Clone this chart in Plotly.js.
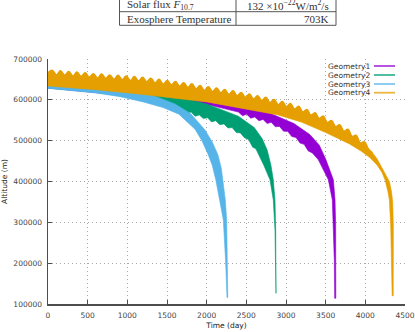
<!DOCTYPE html>
<html>
<head>
<meta charset="utf-8">
<script src="https://cdn.plot.ly/plotly-3.0.1.min.js"></script>
<style>
  html, body { margin: 0; padding: 0; background: #fff; }
  #chart { width: 415px; height: 332px; }
</style>
</head>
<body>
<div id="chart"></div>
<script>
// Orbit decay of four satellite geometries: altitude envelope (m) over time (day).
// Each band is bounded by an upper edge and a lower edge of the oscillating altitude.

const seriesNames = ['Geometry1', 'Geometry2', 'Geometry3', 'Geometry4'];
const seriesColors = ['#9400d3', '#009e73', '#56b4e9', '#e69f00'];

// Geometry1
const g1TopT = [0, 1000, 2000, 2400, 2800, 3100, 3300, 3420, 3504, 3555, 3597, 3618, 3626, 3628];
const g1TopH = [648000, 630000, 603000, 588000, 567000, 542000, 515000, 489000, 453000, 428000, 404000, 355000, 290000, 114000];
const g1BotT = [0, 1000, 2063, 2400, 2452, 2504, 2556, 2607, 2659, 2711, 2763, 2814, 2866, 2918, 2970, 3021, 3073,
  3125, 3177, 3228, 3280, 3332, 3408, 3490, 3534, 3584, 3597, 3609, 3614];
const g1BotH = [629000, 610000, 586000, 570000, 561000, 565000, 555000, 558000, 549000, 552000, 542000, 545000, 534000,
  535000, 523000, 523000, 510000, 508000, 494000, 491000, 475000, 470000, 453000, 422000, 404000, 355000, 289000,
  208000, 114000];

// Geometry2
const g2TopT = [0, 600, 1200, 1600, 2000, 2400, 2600, 2700, 2763, 2810, 2840, 2861, 2870, 2874];
const g2TopH = [648000, 641000, 625000, 610000, 590000, 560000, 532000, 505000, 477000, 440000, 404000, 355000, 281000, 126000];
const g2BotT = [0, 600, 1200, 1600, 1700, 1752, 1804, 1855, 1907, 1959, 2011, 2062, 2114, 2166, 2218, 2269, 2321,
  2373, 2425, 2476, 2528, 2580, 2620, 2720, 2798, 2840, 2861, 2868];
const g2BotH = [629000, 619000, 600000, 583000, 577000, 567000, 570000, 560000, 563000, 554000, 556000, 546000, 549000,
  539000, 541000, 531000, 532000, 520000, 519000, 507000, 503000, 484000, 480000, 440000, 404000, 355000, 281000, 126000];

// Geometry3
const g3TopT = [0, 600, 1200, 1600, 1800, 1979, 2070, 2143, 2185, 2206, 2235, 2252, 2262, 2266];
const g3TopH = [648000, 640000, 620000, 590000, 566000, 526000, 497000, 465000, 432000, 404000, 355000, 306000, 200000, 116000];
const g3BotT = [0, 300, 600, 900, 1200, 1450, 1650, 1853, 1940, 2017, 2070, 2115, 2165, 2210, 2240, 2256];
const g3BotH = [628000, 622000, 617000, 608000, 595000, 581000, 565000, 528000, 500000, 467000, 440000, 404000, 355000, 306000, 200000, 116000];

// Geometry4: crests and dips of the oscillation along the upper edge ...
const g4CrestT = [0, 55, 107, 158, 210, 262, 314, 365, 417, 469, 521, 572, 624, 676, 728, 779, 831, 883, 935, 986,
  1038, 1090, 1142, 1193, 1245, 1297, 1349, 1400, 1452, 1504, 1556, 1607, 1659, 1711, 1763, 1814, 1866, 1918, 1970,
  2021, 2073, 2125, 2177, 2228, 2280, 2332, 2384, 2435, 2487, 2539, 2591, 2642, 2694, 2746, 2798, 2849, 2901, 2953,
  3005, 3056, 3108, 3160, 3212, 3263, 3315, 3367, 3419, 3470, 3522, 3574, 3626, 3677, 3729, 3781, 3833, 3884, 3936,
  3988, 4040, 4091];
const g4CrestH = [666000, 672000, 661000, 671000, 660000, 669000, 658000, 668000, 657000, 666000, 655000, 664000, 653000,
  663000, 652000, 661000, 650000, 660000, 649000, 658000, 647000, 657000, 646000, 655000, 644000, 653000, 641000,
  650000, 638000, 647000, 636000, 645000, 633000, 642000, 630000, 639000, 627000, 635000, 623000, 632000, 620000,
  629000, 617000, 625000, 613000, 622000, 610000, 618000, 606000, 614000, 602000, 610000, 598000, 606000, 593000,
  601000, 588000, 596000, 583000, 591000, 577000, 584000, 570000, 576000, 562000, 568000, 554000, 560000, 544000,
  549000, 534000, 539000, 523000, 528000, 510000, 513000, 494000, 497000, 479000, 470000];
// ... then the upper edge of the final plunge, and the lower edge.
const g4TailT = [4150, 4200, 4250, 4303, 4330, 4345, 4353, 4354, 4352];
const g4TailH = [455000, 438000, 418000, 400000, 375000, 350000, 290000, 200000, 120000];
const g4BotT = [0, 600, 1200, 2000, 2500, 2900, 3200, 3500, 3800, 3950, 4060, 4150, 4210, 4248, 4285, 4303, 4320, 4332, 4338];
const g4BotH = [634000, 625000, 613000, 595000, 578000, 563000, 545000, 520000, 492000, 474000, 458000, 440000, 422000,
  404000, 375000, 355000, 289000, 208000, 120000];

const xTicks = [0, 500, 1000, 1500, 2000, 2500, 3000, 3500, 4000, 4500];
const yTicks = [100000, 200000, 300000, 400000, 500000, 600000, 700000];

const tableRows = [
  ['Solar flux <i>F</i><sub>10.7</sub>', '132 ×10<sup>−22</sup>W/m<sup>2</sup>/s'],
  ['Exosphere Temperature', '703K']
];

const bands = [
  [g1TopT, g1TopH, g1BotT, g1BotH],
  [g2TopT, g2TopH, g2BotT, g2BotH],
  [g3TopT, g3TopH, g3BotT, g3BotH],
  [g4CrestT.concat(g4TailT), g4CrestH.concat(g4TailH), g4BotT, g4BotH]
];

const traces = bands.map(function (b, i) {
  return {
    type: 'scatter',
    mode: 'lines',
    name: seriesNames[i],
    x: b[0].concat(b[2].slice().reverse()),
    y: b[1].concat(b[3].slice().reverse()),
    fill: 'toself',
    fillcolor: seriesColors[i],
    line: { color: seriesColors[i], width: 0.6 },
    hoverinfo: 'skip'
  };
});

// Rounded crests on top of Geometry4.
traces.push({
  type: 'scatter', mode: 'lines', x: g4CrestT, y: g4CrestH,
  line: { color: seriesColors[3], width: 1.6, shape: 'spline', smoothing: 1.3 },
  hoverinfo: 'skip', showlegend: false
});

// Plot-area geometry in pixels, used to place the legend and the parameter table.
const W = 415, H = 332, L = 48, R = 10, T = 59, B = 28;
const pw = W - L - R, ph = H - T - B;
const px = function (x) { return (x - L) / pw; };
const py = function (y) { return (H - B - y) / ph; };

const annotations = [];
const shapes = [];

// Legend: label on the left, line sample on the right.
const legendY = [66, 75, 84, 92.7];
seriesNames.forEach(function (name, i) {
  annotations.push({
    xref: 'paper', yref: 'paper', x: px(372), y: py(legendY[i]),
    xanchor: 'right', yanchor: 'middle', showarrow: false, text: name,
    font: { family: 'DejaVu Sans', size: 7.5, color: '#333' }
  });
  shapes.push({
    type: 'line', xref: 'paper', yref: 'paper',
    x0: px(374), x1: px(395), y0: py(legendY[i]), y1: py(legendY[i]),
    line: { color: seriesColors[i], width: 1.8 }, opacity: 0.75
  });
});

// Parameter table above the plot.
const tblL = 119.5, tblM = 236, tblR = 336;
const tblRules = [11.7, 25.3];
const tblTextY = [5.2, 18.8];
[tblL, tblM, tblR].forEach(function (x) {
  shapes.push({ type: 'line', xref: 'paper', yref: 'paper', x0: px(x), x1: px(x), y0: py(-2), y1: py(25.3),
    line: { color: '#555', width: 1 } });
});
tblRules.forEach(function (y) {
  shapes.push({ type: 'line', xref: 'paper', yref: 'paper', x0: px(tblL), x1: px(tblR), y0: py(y), y1: py(y),
    line: { color: '#555', width: 1 } });
});
tableRows.forEach(function (row, i) {
  annotations.push({ xref: 'paper', yref: 'paper', x: px(tblL + 5), y: py(tblTextY[i]), xanchor: 'left', yanchor: 'middle',
    showarrow: false, text: row[0], font: { family: 'Liberation Serif', size: 11, color: '#333' } });
  annotations.push({ xref: 'paper', yref: 'paper', x: px(tblR - 5), y: py(tblTextY[i]), xanchor: 'right', yanchor: 'middle',
    showarrow: false, text: row[1], font: { family: 'Liberation Serif', size: 11, color: '#333' } });
});

const axisCommon = {
  showline: true, linecolor: '#4d4d4d', linewidth: 1.5, mirror: false,
  ticks: 'inside', ticklen: 4, tickwidth: 1, tickcolor: '#4d4d4d',
  showgrid: true, gridcolor: '#a8a8a8', griddash: '1px,3px', gridwidth: 1,
  zeroline: false, tickfont: { family: 'DejaVu Sans', size: 7.5, color: '#444' }
};

const layout = {
  width: W, height: H,
  margin: { l: L, r: R, t: T, b: B },
  paper_bgcolor: '#fff', plot_bgcolor: '#fff',
  showlegend: false,
  xaxis: Object.assign({}, axisCommon, {
    range: [0, 4500], tickvals: xTicks, ticktext: xTicks.map(String), ticklabelstandoff: 3,
    title: { text: 'Time (day)', font: { family: 'DejaVu Sans', size: 7.5, color: '#222' }, standoff: 4 }
  }),
  yaxis: Object.assign({}, axisCommon, {
    range: [100000, 700000], tickvals: yTicks, ticktext: yTicks.map(String), ticklabelstandoff: 3,
    title: { text: 'Altitude (m)', font: { family: 'DejaVu Sans', size: 7.5, color: '#222' }, standoff: 4 }
  }),
  annotations: annotations,
  shapes: shapes
};

Plotly.newPlot('chart', traces, layout, { staticPlot: true, displayModeBar: false });
</script>
</body>
</html>
